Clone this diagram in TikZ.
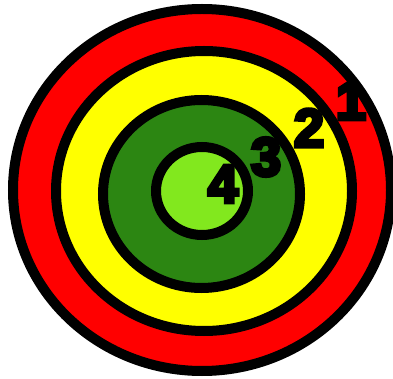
\documentclass[tikz,border=0pt]{standalone}
\usepackage{fontspec}
\usepackage{tikz}
\newfontfamily\ringfont[BoldFeatures={FakeBold=7}]{Liberation Sans}
\definecolor{ringred}{HTML}{FF0000}
\definecolor{ringyellow}{HTML}{FFFF00}
\definecolor{ringdark}{HTML}{2C8612}
\definecolor{ringlight}{HTML}{82E81E}

\begin{document}
\begin{tikzpicture}[x=1pt, y=-1pt,
  ring/.style={draw=black, line width=10pt},
  score/.style={inner sep=0pt, text=black, font=\ringfont\bfseries\fontsize{54}{58}\selectfont}]
  \useasboundingbox (0,0) rectangle (393,379);
  \draw[ring, fill=ringred] (202,190) ellipse [x radius=189, y radius=181];
  \draw[ring, fill=ringyellow] (204,191) ellipse [x radius=148, y radius=140];
  \draw[ring, fill=ringdark] (201.5,194) ellipse [x radius=98.5, y radius=94];
  \draw[ring, fill=ringlight] (202,191) ellipse [x radius=46, y radius=44];
  \node[score] (one) at (351,101) {1};
  \node[score] (two) at (309,128) {2};
  \node[score] (three) at (266,157) {3};
  \node[score] (four) at (223,184) {4};
\end{tikzpicture}
\end{document}
